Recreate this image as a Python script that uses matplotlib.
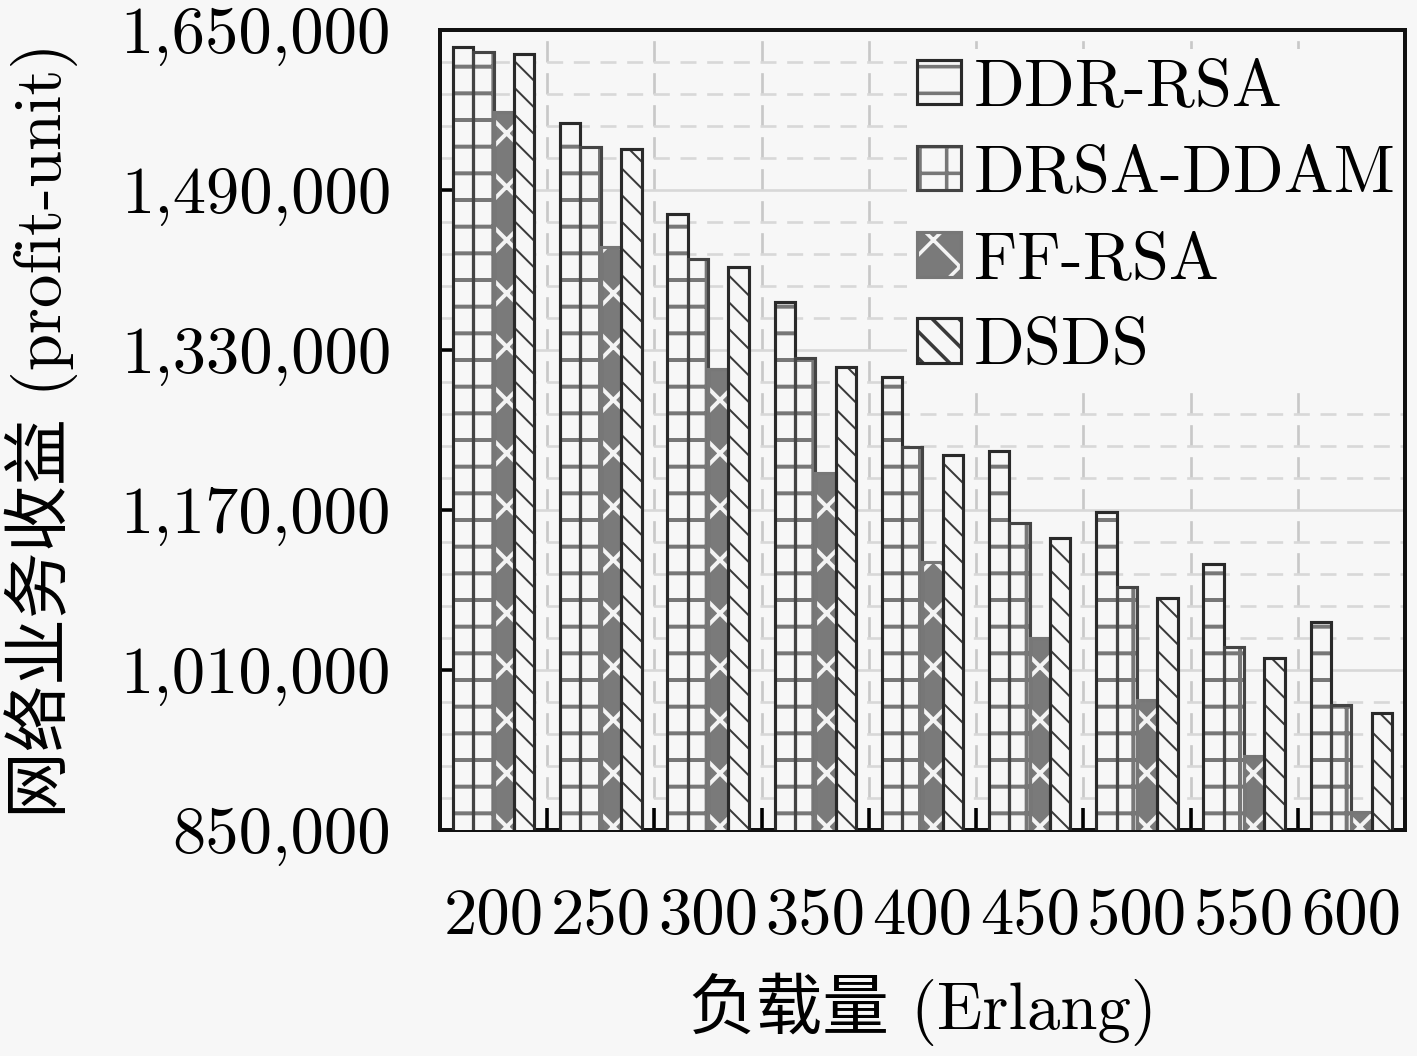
import matplotlib
matplotlib.use("Agg")
import matplotlib.pyplot as plt
import numpy as np
from matplotlib.ticker import FuncFormatter, FixedLocator


loads = ["200", "250", "300", "350", "400", "450", "500", "550", "600"]

ddr_rsa = [1633000, 1557000, 1466000, 1378000, 1303000, 1229000, 1168000, 1116000, 1058000]
drsa_ddam = [1628000, 1533000, 1421000, 1322000, 1233000, 1157000, 1093000, 1033000, 975000]
ff_rsa = [1568000, 1433000, 1311000, 1207000, 1118000, 1042000, 980000, 924000, 868000]
dsds = [1626000, 1531000, 1413000, 1313000, 1225000, 1142000, 1082000, 1022000, 967000]

labels = ["DDR-RSA", "DRSA-DDAM", "FF-RSA", "DSDS"]
values = [ddr_rsa, drsa_ddam, ff_rsa, dsds]

y_min, y_max, y_step = 850000, 1650000, 160000

# hatch, hatch colour, face colour, outline colour, hatch width
styles = [
    ("-", "#777777", "#f7f7f7", "#2a2a2a", 1.8),
    ("+", "#777777", "#f7f7f7", "#444444", 1.8),
    ("x", "#f4f4f4", "#7a7a7a", "#777777", 1.8),
    ("\\\\", "#3a3a3a", "#f7f7f7", "#2a2a2a", 0.9),
]

BG = "#f7f7f7"
FONT = ["cmr10", "Noto Sans CJK SC"]
FS = 30

plt.rcParams["font.family"] = FONT
plt.rcParams["axes.formatter.use_mathtext"] = True
plt.rcParams["hatch.linewidth"] = 1.6


def main() -> None:
    fig = plt.figure(figsize=(1417 / 160, 1056 / 160), dpi=160, facecolor=BG)
    ax = fig.add_axes([0.3105, 0.214, 0.681, 0.7575])
    ax.set_facecolor(BG)

    x = np.arange(len(loads))
    width = 0.19
    handles = []
    for i, (vals, (hatch, hcol, face, edge, hlw)) in enumerate(zip(values, styles)):
        pos = x + (i - 1.5) * width
        filled = ax.bar(pos, vals, width, facecolor=face, edgecolor=hcol, hatch=hatch, linewidth=0, zorder=3)
        outline = ax.bar(pos, vals, width, facecolor="none", edgecolor=edge, linewidth=1.4, zorder=4)
        for p in filled:
            if hasattr(p, "set_hatch_linewidth"):
                p.set_hatch_linewidth(hlw)
        handles.append((filled[0], outline[0]))

    ax.set_xlim(-0.5, len(loads) - 0.5)
    ax.set_ylim(y_min, y_max)

    ax.yaxis.set_major_locator(FixedLocator(np.arange(y_min, y_max + 1, y_step)))
    ax.yaxis.set_minor_locator(FixedLocator(np.arange(y_min, y_max + 1, y_step / 5)))
    ax.yaxis.set_major_formatter(FuncFormatter(lambda v, _: f"{v:,.0f}"))
    ax.tick_params(axis="y", which="major", direction="in", length=8, width=1.6, labelsize=FS, pad=22)
    ax.tick_params(axis="y", which="minor", length=0)

    ax.set_xticks(x, loads)
    ax.set_xticks(x[:-1] + 0.5, minor=True)
    ax.tick_params(axis="x", which="major", length=0, labelsize=FS, pad=26)
    ax.tick_params(axis="x", which="minor", direction="in", length=10, width=1.6)

    ax.grid(axis="y", which="major", color="#d8d8d8", linewidth=1.2, zorder=0)
    ax.grid(axis="y", which="minor", color="#d8d8d8", linewidth=1.2, linestyle=(0, (6, 4)), zorder=0)
    ax.grid(axis="x", which="minor", color="#c8c8c8", linewidth=1.2, linestyle=(0, (8, 4)), zorder=0)
    ax.set_axisbelow(True)

    for side in ["left", "right", "top", "bottom"]:
        ax.spines[side].set_linewidth(1.8)
        ax.spines[side].set_color("#111111")

    ax.set_xlabel("负载量 (Erlang)", fontsize=FS, va="top")
    ax.xaxis.set_label_coords(0.5, -0.178)
    ax.set_ylabel("网络业务收益 (profit-unit)", fontsize=FS)
    ax.yaxis.set_label_coords(-0.375, 0.5)

    leg = ax.legend(
        handles,
        labels,
        loc="upper right",
        bbox_to_anchor=(1.008, 0.985),
        fontsize=FS,
        frameon=True,
        fancybox=False,
        handlelength=0.65,
        handleheight=0.65,
        handletextpad=0.2,
        labelspacing=0.4,
        borderaxespad=0.1,
        borderpad=0.15,
    )
    leg.get_frame().set_facecolor(BG)
    leg.get_frame().set_edgecolor("none")
    leg.get_frame().set_alpha(1.0)
    # legend hides the grid but stays under the bars and spines
    leg.set_zorder(2)

    fig.savefig("out.png", dpi=160, facecolor=BG)


main()
